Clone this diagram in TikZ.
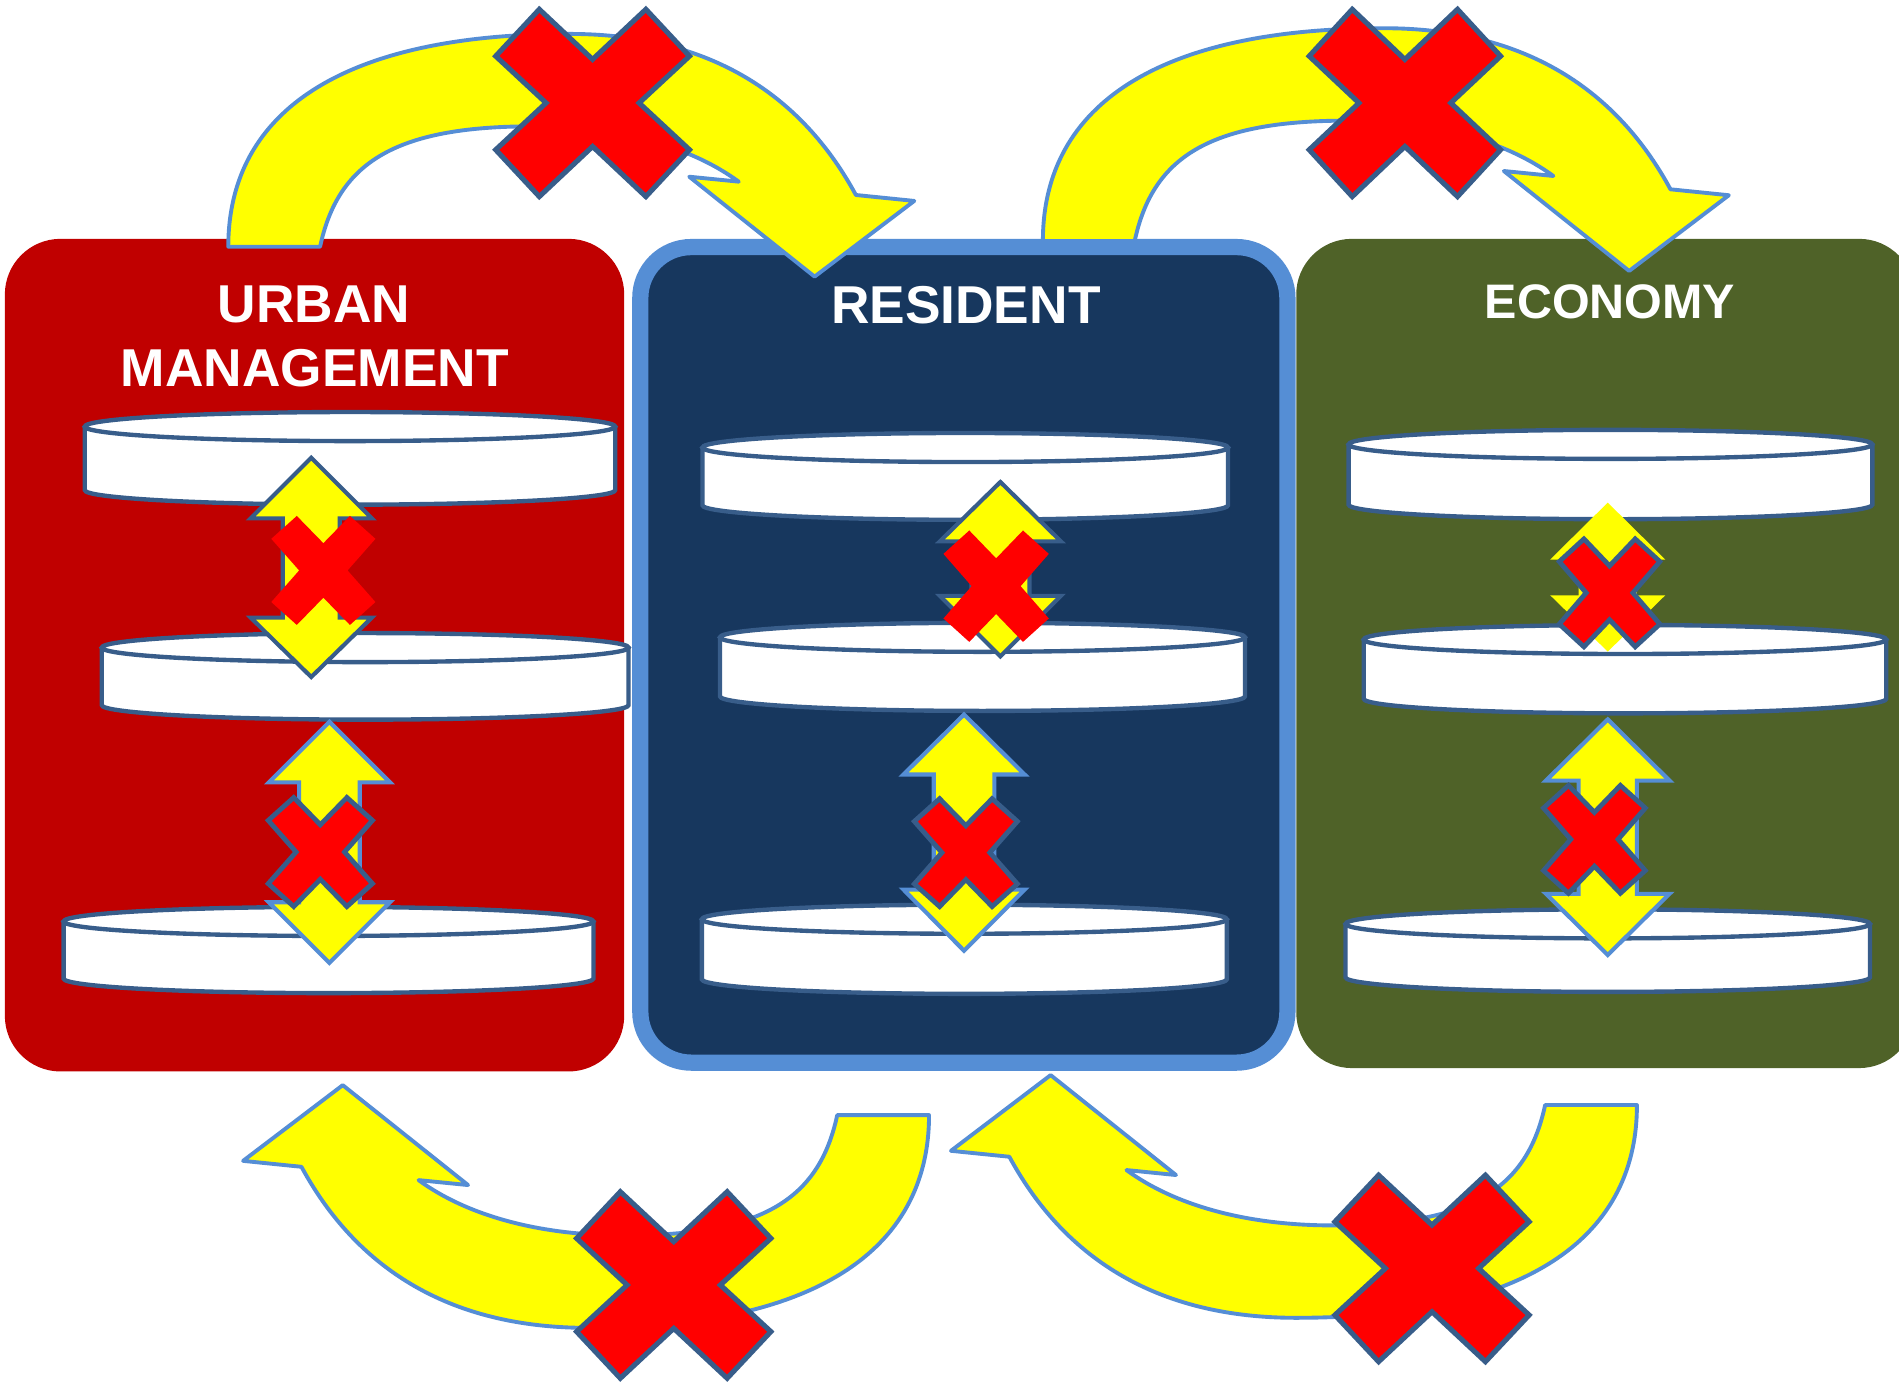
\documentclass[tikz,border=0pt]{standalone}
\usepackage{fontspec}
\setmainfont{Liberation Sans}
\definecolor{umred}{HTML}{C00000}
\definecolor{resnavy}{HTML}{17375E}
\definecolor{ecoolive}{HTML}{4F6228}
\definecolor{lblue}{HTML}{558ED5}
\definecolor{dblue}{HTML}{385D8A}
\definecolor{xred}{HTML}{FF0000}
\definecolor{ayellow}{HTML}{FFFF00}
% big cross: cx cy halfW halfH
\newcommand{\bigCross}[4]{%
  \begin{scope}[shift={(#1,#2)},xscale=#3,yscale=#4]
    \path[xline,line width=2.1pt] (-0.55,-1) -- (0,-0.465) -- (0.55,-1) -- (1,-0.5) -- (0.48,0) -- (1,0.5)
      -- (0.55,1) -- (0,0.465) -- (-0.55,1) -- (-1,0.5) -- (-0.48,0) -- (-1,-0.5) -- cycle;
  \end{scope}}
% small cross: style cx cy halfW halfH
\newcommand{\smallCross}[5]{%
  \begin{scope}[shift={(#2,#3)},xscale=#4,yscale=#5]
    \path[#1] (-0.51,-1) -- (0,-0.5) -- (0.51,-1) -- (1,-0.58) -- (0.465,0) -- (1,0.58)
      -- (0.51,1) -- (0,0.5) -- (-0.51,1) -- (-1,0.58) -- (-0.465,0) -- (-1,-0.58) -- cycle;
  \end{scope}}
% up-down arrow: style cx tip h1 h2 bottom halfhead halfshaft
\newcommand{\udArrow}[8]{%
  \path[#1] (#2,#3) -- ({#2+#7},#4) -- ({#2+#8},#4) -- ({#2+#8},#5) -- ({#2+#7},#5) -- (#2,#6)
    -- ({#2-#7},#5) -- ({#2-#8},#5) -- ({#2-#8},#4) -- ({#2-#7},#4) -- cycle;}
% disk: left right topcentre bottomcentre
\newcommand{\disk}[4]{%
  \fill[white] (#1,#3) rectangle (#2,#4);
  \fill[white] ({(#1+#2)/2},#4) ellipse [x radius={(#2-#1)/2}, y radius=12];
  \draw[cylline] (#1,#3) -- (#1,#4) arc[start angle=180,end angle=0,x radius={(#2-#1)/2},y radius=12] -- (#2,#3);
  \filldraw[cylline,fill=white] ({(#1+#2)/2},#3) ellipse [x radius={(#2-#1)/2}, y radius=12];}
% curved arrow outline (top-left copy)
\newcommand{\curvedArrowPath}{(264.3,203.7) -- (188.5,203.7)
  .. controls (188.5,89.5) and (287,28) .. (470,28)
  .. controls (595,28) and (666.2,86.3) .. (706.7,161)
  -- (754.9,165.9) -- (672.6,228.4) -- (569.1,145.9) -- (610,150)
  .. controls (569.6,120.5) and (510,104.3) .. (440,104.3)
  .. controls (325,104.3) and (279,135) .. (264.3,203.7) -- cycle}
\begin{document}
\begin{tikzpicture}[x=0.5pt,y=-0.5pt,
  cylline/.style={draw=dblue,line width=1.8pt},
  arrowA/.style={fill=ayellow,draw=dblue,line width=1.7pt,line join=miter},
  arrowB/.style={fill=ayellow,draw=lblue,line width=1.7pt,line join=miter},
  arrowC/.style={fill=ayellow},
  xplain/.style={fill=xred},
  xline/.style={fill=xred,draw=dblue,line width=2pt,line join=miter},
  curved/.style={fill=ayellow,draw=lblue,line width=1.6pt,line join=round},
  title/.style={text=white,font=\bfseries\fontsize{22pt}{26pt}\selectfont,inner sep=0pt,anchor=base}]
\clip (0,0) rectangle (1568,1142);
\fill[white] (0,0) rectangle (1568,1142);
% columns
\fill[umred,rounded corners=23pt] (4,197.2) rectangle (515.4,884.7);
\draw[draw=lblue,line width=6.7pt,fill=resnavy,rounded corners=21pt] (528.7,204) rectangle (1063,877.4);
\fill[ecoolive,rounded corners=23pt] (1070.3,197.2) rectangle (1581,881.9);
% titles
\node[title] (tUrban) at (259.4,266.5) {URBAN};
\node[title] (tMgmt) at (260,319) {MANAGEMENT};
\node[title] (tRes) at (797.5,267.5) {RESIDENT};
\node[title,font=\bfseries\fontsize{20pt}{24pt}\selectfont] (tEco) at (1329.3,262.8) {ECONOMY};
% disks
\disk{70}{508}{352.2}{404.7}
\disk{84}{519}{534.7}{582.2}
\disk{52.5}{490}{760.8}{808}
\disk{580}{1014}{369.5}{417.2}
\disk{594.5}{1028}{526.2}{575}
\disk{579.5}{1013}{759}{808.6}
\disk{1113.5}{1546}{366.9}{416.7}
\disk{1126}{1557.5}{528}{577}
\disk{1111}{1544}{762.8}{807}
% vertical double arrows
\udArrow{arrowA}{257}{378}{428}{510}{559}{50}{23.5}
\udArrow{arrowB}{272}{596}{646}{745}{795}{50}{25}
\udArrow{arrowA}{826}{398}{447}{492}{542}{50}{24}
\udArrow{arrowB}{796}{590}{639.5}{734.5}{785}{50}{25}
\udArrow{arrowC}{1327.5}{415}{462}{491.5}{538}{47.5}{24}
\udArrow{arrowB}{1327.5}{594}{644.5}{738}{788.5}{51}{24}
% small crosses
\smallCross{xplain}{267}{471}{43}{45}
\smallCross{xline}{264.5}{703.5}{43}{45}
\smallCross{xplain}{822.5}{484}{43.5}{46}
\smallCross{xline}{797.5}{704}{42.5}{44.5}
\smallCross{xline}{1329}{489.5}{41.5}{44.5}
\smallCross{xline}{1316.5}{693}{42}{44.5}
% curved arrows: one outline, placed four times
\path[curved] \curvedArrowPath;
\begin{scope}[shift={(672.6,-4.7)}]
  \path[curved] \curvedArrowPath;
\end{scope}
\begin{scope}[shift={(955.6,1124.4)},xscale=-1,yscale=-1]
  \path[curved] \curvedArrowPath;
\end{scope}
\begin{scope}[shift={(1540.1,1116.1)},xscale=-1,yscale=-1]
  \path[curved] \curvedArrowPath;
\end{scope}
% big crosses
\bigCross{489.3}{85}{80}{77.3}
\bigCross{1160}{85}{79}{77.3}
\bigCross{556.3}{1061}{80.2}{77}
\bigCross{1182.4}{1047.3}{80.2}{77}
\end{tikzpicture}
\end{document}
